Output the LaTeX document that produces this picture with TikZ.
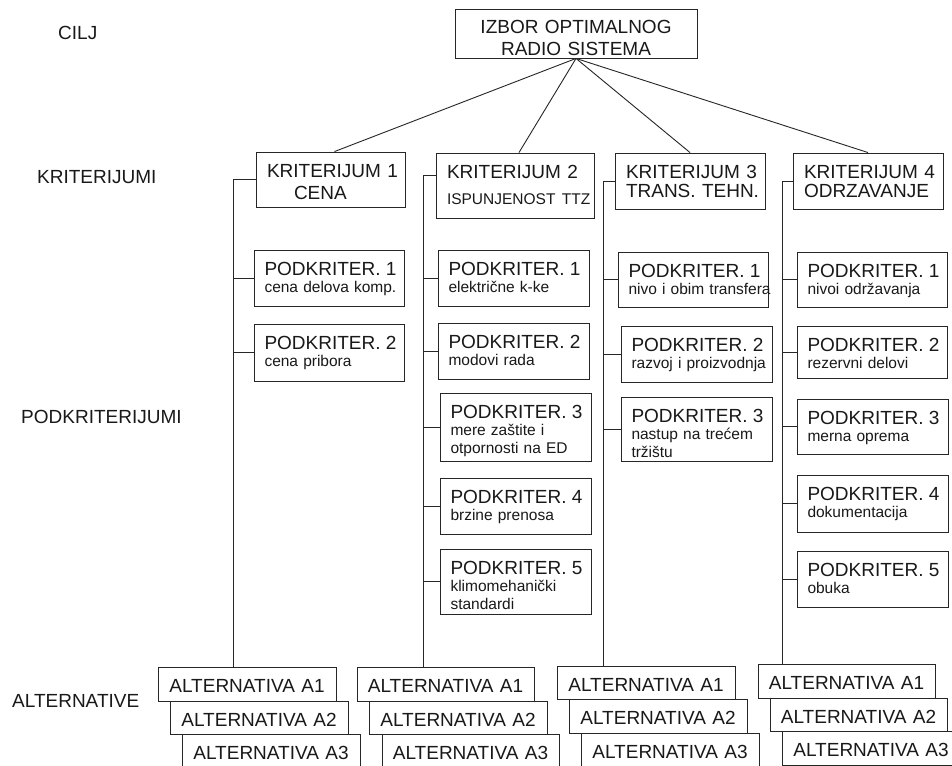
\documentclass[tikz,border=0pt]{standalone}
\usepackage{fontspec}
\setmainfont{Liberation Sans}
\newcommand\fbig{\fontsize{19}{22}\selectfont}
\newcommand\fsml{\fontsize{15.5}{17.5}\selectfont}
\newcommand\fcrit{\fontsize{19}{19.5}\selectfont}
\newcommand\pkr[1]{\mbox{\fbig PODKRITER. #1}}
\newcommand\bx[7]{%
 \pgfmathsetmacro\bxw{#4-#2}%
 \pgfmathsetmacro\bxcx{(#2+#4)/2}%
 \pgfmathsetmacro\bxcy{(#3+#5)/2}%
 \pgfmathsetmacro\bxd{#5-#3-25}%
 \node[#6, minimum width=\bxw pt, text depth=\bxd pt] (#1) at (\bxcx,\bxcy) {#7};}
\begin{document}
\begin{tikzpicture}[x=1pt,y=-1pt,
 box/.style={draw=black!85, line width=0.9pt, rectangle, inner ysep=0pt, inner xsep=10.5pt, text height=25pt, fill=white, text=black!90},
 subbox/.style={box, align=left, text width={\bxw pt-21pt}, font=\fsml},
 critbox/.style={box, align=left, inner xsep=11pt, text width={\bxw pt-22pt}, font=\fcrit},
 altbox/.style={box, align=center, text width={\bxw pt-21pt}, font=\fbig},
 goalbox/.style={box, align=center, text width={\bxw pt-21pt}, font=\fbig},
 lbl/.style={inner sep=0pt, anchor=base west, font=\fbig, text=black!90},
 conn/.style={draw=black!85, line width=0.9pt}]
\clip (0,0) rectangle (952,765);
\fill[white] (0,0) rectangle (952,765);
% level labels
\node[lbl] (lcilj) at (58,40) {CILJ};
\node[lbl] (lkrit) at (37,183) {KRITERIJUMI};
\node[lbl] (lpod) at (21,423) {PODKRITERIJUMI};
\node[lbl] (lalt) at (12,707) {ALTERNATIVE};
% goal
\bx{goal}{455}{9}{697}{58}{goalbox}{\mbox{IZBOR OPTIMALNOG}\\\mbox{RADIO SISTEMA}}
% criteria
\bx{c1}{256}{152}{405}{207}{critbox, font=\fbig}{\mbox{KRITERIJUM 1}\\\hspace*{27pt}\mbox{CENA}}
\bx{c2}{436}{153}{594}{218}{critbox}{\mbox{KRITERIJUM 2}\\[7pt]\fsml\mbox{ISPUNJENOST TTZ}}
\bx{c3}{615}{153}{765}{209}{critbox}{\mbox{KRITERIJUM 3}\\\mbox{TRANS. TEHN.}}
\bx{c4}{793}{153}{943}{209}{critbox}{\mbox{KRITERIJUM 4}\\\mbox{ODRZAVANJE}}
% subcriteria column 1
\bx{p11}{254}{250}{404}{306}{subbox}{\pkr{1}\\\mbox{cena delova komp.}}
\bx{p12}{254}{324}{404}{381}{subbox}{\pkr{2}\\\mbox{cena pribora}}
% column 2
\bx{p21}{438}{250}{589}{306}{subbox}{\pkr{1}\\\mbox{električne k-ke}}
\bx{p22}{438}{323}{589}{379}{subbox}{\pkr{2}\\\mbox{modovi rada}}
\bx{p23}{440}{393}{591}{461}{subbox}{\pkr{3}\\\mbox{mere zaštite i}\\\mbox{otpornosti na ED}}
\bx{p24}{440}{478}{591}{534}{subbox}{\pkr{4}\\\mbox{brzine prenosa}}
\bx{p25}{440}{549}{591}{614}{subbox}{\pkr{5}\\\mbox{klimomehanički}\\\mbox{standardi}}
% column 3
\bx{p31}{618}{252}{768}{307}{subbox}{\pkr{1}\\\mbox{nivo i obim transfera}}
\bx{p32}{621}{326}{772}{382}{subbox}{\pkr{2}\\\mbox{razvoj i proizvodnja}}
\bx{p33}{621}{397}{772}{461}{subbox}{\pkr{3}\\\mbox{nastup na trećem}\\\mbox{tržištu}}
% column 4
\bx{p41}{797}{252}{947}{307}{subbox}{\pkr{1}\\\mbox{nivoi održavanja}}
\bx{p42}{797}{326}{947}{378}{subbox}{\pkr{2}\\\mbox{rezervni delovi}}
\bx{p43}{797}{399}{948}{454}{subbox}{\pkr{3}\\\mbox{merna oprema}}
\bx{p44}{797}{475}{948}{532}{subbox}{\pkr{4}\\\mbox{dokumentacija}}
\bx{p45}{797}{551}{948}{607}{subbox}{\pkr{5}\\\mbox{obuka}}
% alternatives
\bx{a11}{158}{667}{336}{701}{altbox}{\mbox{ALTERNATIVA A1}}
\bx{a12}{170}{701}{348}{734}{altbox}{\mbox{ALTERNATIVA A2}}
\bx{a13}{182}{734}{360}{768}{altbox}{\mbox{ALTERNATIVA A3}}
\bx{a21}{357}{667}{534}{701}{altbox}{\mbox{ALTERNATIVA A1}}
\bx{a22}{369}{701}{547}{734}{altbox}{\mbox{ALTERNATIVA A2}}
\bx{a23}{382}{734}{559}{768}{altbox}{\mbox{ALTERNATIVA A3}}
\bx{a31}{557}{666}{735}{699}{altbox}{\mbox{ALTERNATIVA A1}}
\bx{a32}{569}{699}{747}{733}{altbox}{\mbox{ALTERNATIVA A2}}
\bx{a33}{581}{733}{759}{767}{altbox}{\mbox{ALTERNATIVA A3}}
\bx{a41}{758}{664}{935}{698}{altbox}{\mbox{ALTERNATIVA A1}}
\bx{a42}{770}{698}{947}{731}{altbox}{\mbox{ALTERNATIVA A2}}
\bx{a43}{782}{731}{960}{765}{altbox}{\mbox{ALTERNATIVA A3}}
% goal to criteria
\draw[conn] (goal.south) -- ([xshift=4pt]c1.north);
\draw[conn] (goal.south) -- ([xshift=4pt]c2.north);
\draw[conn] (goal.south) -- (c3.north);
\draw[conn] (goal.south) -- (c4.north);
% spines
\draw[conn] (c1.west) -- ++(-22,0) coordinate (s1) -- (s1 |- a11.north);
\draw[conn] ([yshift=10pt]c2.west) -- ++(-12,0) coordinate (s2) -- (s2 |- a21.north);
\draw[conn] (c3.west) -- ++(-11,0) coordinate (s3) -- (s3 |- a31.north);
\draw[conn] (c4.west) -- ++(-10,0) coordinate (s4) -- (s4 |- a41.north);
% stubs
\foreach \p in {p11,p12}{\draw[conn] (\p.west) -- (\p.west -| s1);}
\foreach \p in {p21,p22,p23,p24,p25}{\draw[conn] (\p.west) -- (\p.west -| s2);}
\foreach \p in {p31,p32,p33}{\draw[conn] (\p.west) -- (\p.west -| s3);}
\foreach \p in {p41,p42,p43,p44,p45}{\draw[conn] (\p.west) -- (\p.west -| s4);}
\end{tikzpicture}
\end{document}
